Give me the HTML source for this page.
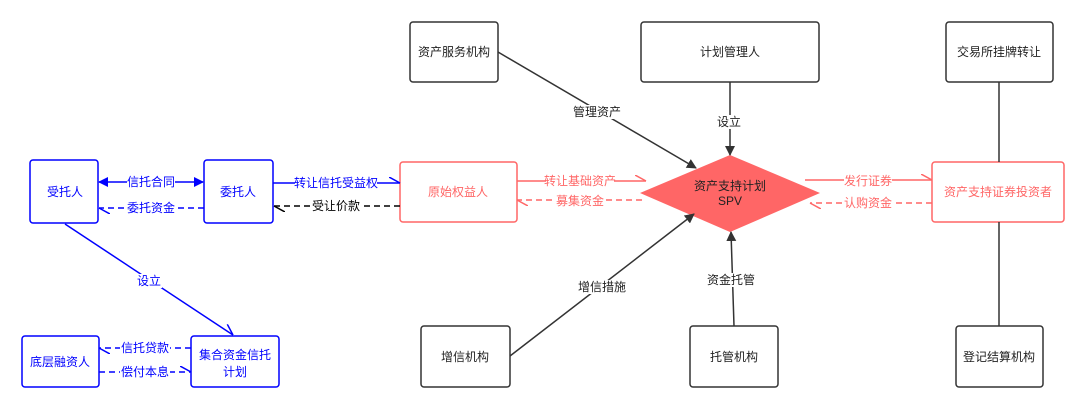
<!DOCTYPE html>
<html><head><meta charset="utf-8"><style>
html,body{margin:0;padding:0;background:#fff;width:1080px;height:409px;overflow:hidden}
svg{display:block}
text{font-family:"Liberation Sans","Noto Sans CJK SC",sans-serif;font-size:12px;text-anchor:middle;dominant-baseline:central}
</style></head><body>
<svg width="1080" height="409" viewBox="0 0 1080 409">
<defs>
<marker id="ab" markerWidth="10" markerHeight="10" refX="9" refY="5" orient="auto" markerUnits="userSpaceOnUse"><path d="M0,0 L10,5 L0,10 z" fill="#333"/></marker>
<marker id="abl" markerWidth="10" markerHeight="10" refX="9" refY="5" orient="auto-start-reverse" markerUnits="userSpaceOnUse"><path d="M0,0 L10,5 L0,10 z" fill="#00f"/></marker>
<marker id="ob" markerWidth="12" markerHeight="12" refX="11" refY="6" orient="auto" markerUnits="userSpaceOnUse"><path d="M0,0 L11,6" fill="none" stroke="#00f" stroke-width="1.5"/></marker>
<marker id="ok" markerWidth="12" markerHeight="12" refX="11" refY="6" orient="auto" markerUnits="userSpaceOnUse"><path d="M0,0 L11,6" fill="none" stroke="#000" stroke-width="1.5"/></marker>
<marker id="or" markerWidth="12" markerHeight="12" refX="11" refY="6" orient="auto" markerUnits="userSpaceOnUse"><path d="M0,0 L11,6" fill="none" stroke="#f66" stroke-width="1.5"/></marker>
</defs>
<g fill="#fff" stroke-width="1.5">
<g stroke="#00f">
<rect x="30" y="160" width="68" height="63" rx="3"/>
<rect x="204" y="160" width="69" height="63" rx="3"/>
<rect x="22" y="336" width="77" height="51" rx="3"/>
<rect x="191" y="336" width="88" height="51" rx="3"/>
</g>
<g stroke="#f66">
<rect x="400" y="162" width="117" height="60" rx="3"/>
<rect x="932" y="162" width="132" height="60" rx="3"/>
</g>
<g stroke="#333">
<rect x="410" y="22" width="88" height="60" rx="3"/>
<rect x="641" y="22" width="178" height="60" rx="3"/>
<rect x="946" y="22" width="107" height="60" rx="3"/>
<rect x="421" y="326" width="89" height="61" rx="3"/>
<rect x="690" y="326" width="88" height="61" rx="3"/>
<rect x="956" y="326" width="87" height="61" rx="3"/>
</g>
</g>
<polygon points="640,193 730,155 820,193 730,232" fill="#f66"/>
<g stroke="#333" stroke-width="1.5" fill="none">
<line x1="498" y1="52" x2="696" y2="168" marker-end="url(#ab)"/>
<line x1="730" y1="82" x2="730" y2="155" marker-end="url(#ab)"/>
<line x1="510" y1="356" x2="694" y2="214" marker-end="url(#ab)"/>
<line x1="734" y1="326" x2="731" y2="232" marker-end="url(#ab)"/>
<line x1="999" y1="82" x2="999" y2="162"/>
<line x1="999" y1="222" x2="999" y2="326"/>
</g>
<g stroke="#f66" stroke-width="1.5" fill="none">
<line x1="517" y1="181" x2="646" y2="181" marker-end="url(#or)"/>
<line x1="642" y1="200" x2="517" y2="200" stroke-dasharray="6,4" marker-end="url(#or)"/>
<line x1="805" y1="180" x2="932" y2="180" marker-end="url(#or)"/>
<line x1="932" y1="203" x2="810" y2="203" stroke-dasharray="6,4" marker-end="url(#or)"/>
</g>
<g stroke="#00f" stroke-width="1.5" fill="none">
<line x1="99" y1="182" x2="203" y2="182" marker-start="url(#abl)" marker-end="url(#abl)"/>
<line x1="204" y1="208" x2="99" y2="208" stroke-dasharray="6,4" marker-end="url(#ob)"/>
<line x1="273" y1="183" x2="400" y2="183" marker-end="url(#ob)"/>
<line x1="65" y1="224" x2="233" y2="335" marker-end="url(#ob)"/>
<line x1="191" y1="348" x2="99" y2="348" stroke-dasharray="6,4" marker-end="url(#ob)"/>
<line x1="99" y1="372" x2="191" y2="372" stroke-dasharray="6,4" marker-end="url(#ob)"/>
</g>
<line x1="400" y1="206" x2="274" y2="206" stroke="#000" stroke-width="1.5" stroke-dasharray="6,4" marker-end="url(#ok)"/>
<g fill="#fff">
<rect x="127" y="175" width="48" height="14"/><rect x="125" y="201" width="52" height="14"/>
<rect x="295" y="176" width="82" height="14"/><rect x="312" y="199" width="48" height="14"/>
<rect x="136" y="274" width="26" height="14"/>
<rect x="120" y="341" width="50" height="14"/><rect x="120" y="365" width="50" height="14"/>
<rect x="546" y="174" width="68" height="14"/><rect x="555" y="194" width="50" height="14"/>
<rect x="844" y="174" width="48" height="14"/><rect x="844" y="196" width="48" height="14"/>
<rect x="572" y="105" width="50" height="14"/><rect x="716" y="115" width="26" height="14"/>
<rect x="577" y="280" width="50" height="14"/><rect x="707" y="273" width="48" height="14"/>
</g>
<g fill="#00f">
<text x="65" y="192">受托人</text><text x="238" y="192">委托人</text>
<text x="60" y="362">底层融资人</text><text x="235" y="355">集合资金信托</text><text x="235" y="372">计划</text>
<text x="151" y="182">信托合同</text><text x="151" y="208">委托资金</text>
<text x="336" y="183">转让信托受益权</text><text x="149" y="281">设立</text>
<text x="145" y="348">信托贷款</text><text x="145" y="372">偿付本息</text>
</g>
<text x="336" y="206" fill="#000">受让价款</text>
<g fill="#f66">
<text x="458" y="192">原始权益人</text><text x="998" y="192">资产支持证券投资者</text>
<text x="580" y="181">转让基础资产</text><text x="580" y="201">募集资金</text>
<text x="868" y="181">发行证券</text><text x="868" y="203">认购资金</text>
</g>
<g fill="#222">
<text x="454" y="52">资产服务机构</text><text x="730" y="52">计划管理人</text><text x="999" y="52">交易所挂牌转让</text>
<text x="465" y="357">增信机构</text><text x="734" y="357">托管机构</text><text x="999" y="357">登记结算机构</text>
<text x="597" y="112">管理资产</text><text x="729" y="122">设立</text>
<text x="602" y="287">增信措施</text><text x="731" y="280">资金托管</text>
<text x="730" y="186">资产支持计划</text><text x="730" y="201">SPV</text>
</g>
</svg>
</body></html>
